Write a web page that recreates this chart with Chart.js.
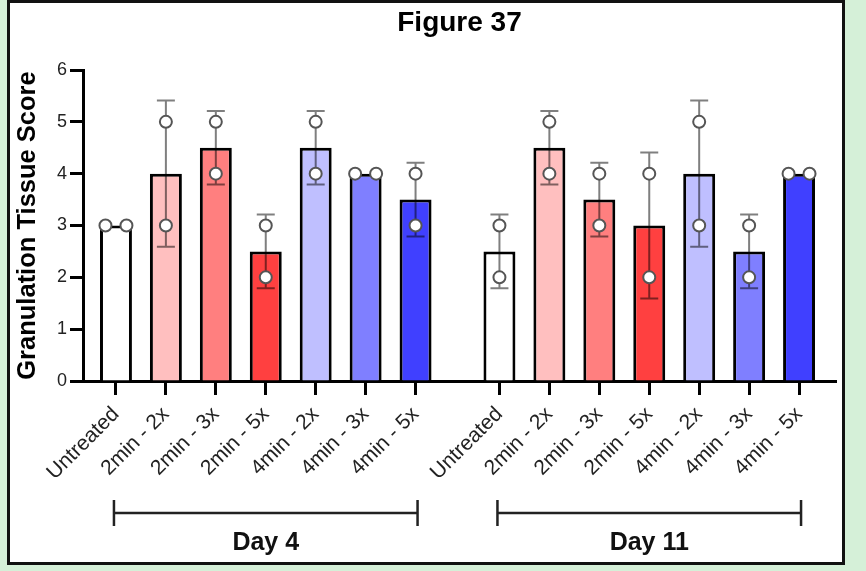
<!DOCTYPE html>
<html>
<head>
<meta charset="utf-8">
<title>Figure 37</title>
<script src="https://cdn.jsdelivr.net/npm/chart.js@4.4.1/dist/chart.umd.min.js"></script>
<style>
	body { margin: 0; background: #d5f0d8; }
	.panel { position: absolute; left: 7px; top: 0; width: 838px; height: 565px; box-sizing: border-box; border: 3px solid #111; background: #fff; }
	#chart { position: absolute; left: 0; top: 0; }
</style>
</head>
<body>
<div class="panel"></div>
<canvas id="chart" width="866" height="571"></canvas>
<script>
// DATA

const categories = ['Untreated', '2min - 2x', '2min - 3x', '2min - 5x', '4min - 2x', '4min - 3x', '4min - 5x'];
const days = ['Day 4', 'Day 11'];

const day4Means = [3, 4, 4.5, 2.5, 4.5, 4, 3.5];
const day11Means = [2.5, 4.5, 3.5, 3, 4, 2.5, 4];

const day4SD = [0, 1.41, 0.71, 0.71, 0.71, 0, 0.71];
const day11SD = [0.71, 0.71, 0.71, 1.41, 1.41, 0.71, 0];

const day4Scores = [[3, 3], [5, 3], [5, 4], [3, 2], [5, 4], [4, 4], [4, 3]];
const day11Scores = [[3, 2], [5, 4], [4, 3], [4, 2], [5, 3], [3, 2], [4, 4]];

const yTicks = [0, 1, 2, 3, 4, 5, 6];

// STYLE

const barColors = ['#ffffff', '#ffbfbf', '#ff7f7f', '#ff4040', '#bfbfff', '#7f7fff', '#4040ff'];
const font = 'Arial, "Liberation Sans", sans-serif';
const groupGap = 0.68;   // extra space between Day 4 and Day 11, in bar slots
const jitter = 0.21;     // side offset for equal scores

// BUILD SERIES

const means = [day4Means, day11Means];
const sds = [day4SD, day11SD];
const scores = [day4Scores, day11Scores];

let positions = [], labels = [], barData = [], barSD = [], colors = [], pointData = [];

days.forEach((day, g) => {
	categories.forEach((cat, i) => {
		const pos = g * (categories.length + groupGap) + i;
		positions.push(pos);
		labels.push(cat);
		colors.push(barColors[i]);
		barData.push({ x: pos, y: means[g][i] });
		barSD.push(sds[g][i]);
		const pts = scores[g][i];
		pts.forEach((s, k) => {
			const same = pts[0] === pts[1];
			pointData.push({ x: same ? pos + (k === 0 ? -jitter : jitter) : pos, y: s });
		});
	});
});

// PLUGINS

const errorBars = {
	id: 'errorBars',
	afterDatasetDraw(chart, args) {
		if (args.index !== 0) return;
		const { ctx, scales: { x, y } } = chart;
		ctx.save();
		ctx.strokeStyle = 'rgba(0,0,0,0.5)';
		ctx.lineWidth = 2;
		ctx.beginPath();
		barData.forEach((d, i) => {
			if (!barSD[i]) return;
			const px = x.getPixelForValue(d.x);
			const top = y.getPixelForValue(d.y + barSD[i]);
			const bot = y.getPixelForValue(d.y - barSD[i]);
			ctx.moveTo(px, top); ctx.lineTo(px, bot);
			ctx.moveTo(px - 9, top); ctx.lineTo(px + 9, top);
			ctx.moveTo(px - 9, bot); ctx.lineTo(px + 9, bot);
		});
		ctx.stroke();
		ctx.restore();
	}
};

const dayBrackets = {
	id: 'dayBrackets',
	afterDraw(chart) {
		const { ctx, chartArea, scales: { x } } = chart;
		const lineY = chartArea.bottom + 132;
		ctx.save();
		ctx.strokeStyle = '#222';
		ctx.lineWidth = 2.5;
		ctx.fillStyle = '#111';
		ctx.font = 'bold 25px ' + font;
		ctx.textAlign = 'center';
		ctx.textBaseline = 'middle';
		days.forEach((day, g) => {
			const first = positions[g * categories.length];
			const last = positions[g * categories.length + categories.length - 1];
			const mid = x.getPixelForValue((first + last) / 2);
			const half = (x.getPixelForValue(last) - x.getPixelForValue(first)) / 2 + 2;
			ctx.beginPath();
			ctx.moveTo(mid - half, lineY); ctx.lineTo(mid + half, lineY);
			ctx.moveTo(mid - half, lineY - 13); ctx.lineTo(mid - half, lineY + 13);
			ctx.moveTo(mid + half, lineY - 13); ctx.lineTo(mid + half, lineY + 13);
			ctx.stroke();
			ctx.fillText(day, mid, lineY + 30);
		});
		ctx.restore();
	}
};

// CHART

const ctx = document.getElementById('chart').getContext('2d');

new Chart(ctx, {
	data: {
		datasets: [
			{
				type: 'bar',
				data: barData,
				backgroundColor: colors,
				borderColor: '#000',
				borderWidth: 3,
				barPercentage: 0.8,
				categoryPercentage: 0.8,
				order: 2,
			},
			{
				type: 'scatter',
				data: pointData,
				pointRadius: 6,
				pointBorderWidth: 2,
				pointBackgroundColor: '#fff',
				pointBorderColor: '#555',
				order: 1,
			},
		],
	},
	options: {
		responsive: false,
		animation: false,
		layout: { padding: { left: 0, right: 30, top: 0, bottom: 0 } },
		plugins: {
			legend: { display: false },
			tooltip: { enabled: false },
			title: {
				display: true,
				fullSize: false,
				text: 'Figure 37',
				color: '#000',
				font: { family: font, size: 28, weight: 'bold' },
				padding: { top: 6, bottom: 30.4 },
			},
		},
		scales: {
			x: {
				type: 'linear',
				offset: false,
				min: -0.66,
				max: positions[positions.length - 1] + 0.74,
				afterBuildTicks: s => { s.ticks = positions.map(v => ({ value: v })); },
				afterFit: s => { s.height = 190; },
				ticks: {
					autoSkip: false,
					minRotation: 45,
					maxRotation: 45,
					padding: 7,
					color: '#222',
					font: { family: font, size: 21 },
					callback: (value, index) => labels[index],
				},
				grid: { offset: false, drawOnChartArea: false, tickLength: 14, tickWidth: 3, tickColor: '#000' },
				border: { display: true, color: '#000', width: 3 },
			},
			y: {
				min: 0,
				max: 6,
				afterBuildTicks: s => { s.ticks = yTicks.map(v => ({ value: v })); },
				afterFit: s => { s.width = 83; },
				ticks: {
					padding: 3,
					color: '#222',
					font: { family: font, size: 18 },
				},
				grid: { drawOnChartArea: false, tickLength: 13, tickWidth: 3, tickColor: '#000' },
				border: { display: true, color: '#000', width: 3 },
				title: {
					display: true,
					text: 'Granulation Tissue Score',
					color: '#000',
					font: { family: font, size: 25.5, weight: 'bold' },
					padding: { top: 13, bottom: 0 },
				},
			},
		},
	},
	plugins: [errorBars, dayBrackets],
});
</script>
</body>
</html>
